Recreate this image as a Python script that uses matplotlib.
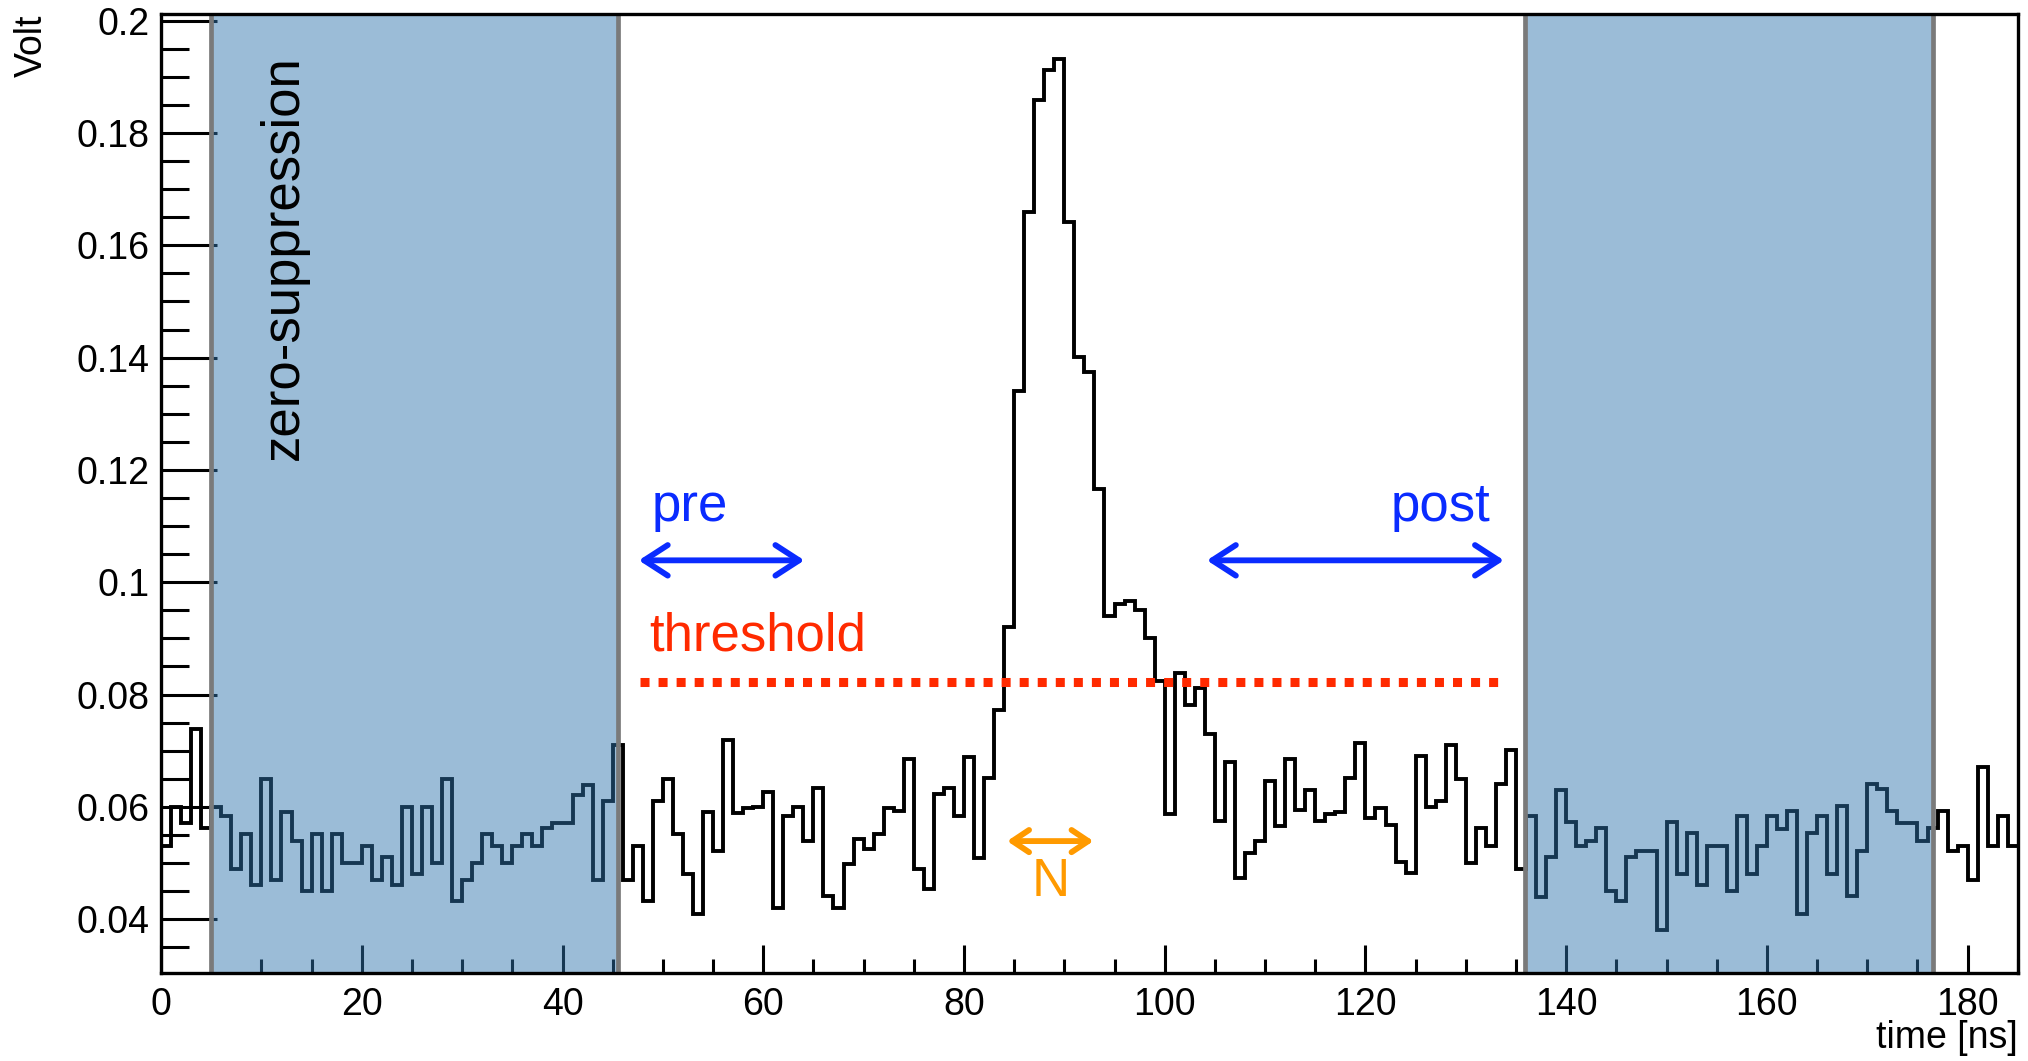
import numpy as np
from matplotlib import pyplot as plt
from matplotlib.ticker import MultipleLocator, FuncFormatter

plt.rcParams['font.family'] = ['Liberation Sans', 'DejaVu Sans']

# waveform, one value per 1 ns bin (0..185 ns)
volts = [0.0531, 0.0600, 0.0571, 0.0739, 0.0562, 0.0600, 0.0583, 0.0490, 0.0552, 0.0460,
         0.0649, 0.0470, 0.0591, 0.0540, 0.0451, 0.0552, 0.0451, 0.0552, 0.0500, 0.0500,
         0.0530, 0.0470, 0.0511, 0.0460, 0.0600, 0.0481, 0.0600, 0.0500, 0.0649, 0.0433,
         0.0470, 0.0500, 0.0552, 0.0530, 0.0500, 0.0530, 0.0552, 0.0530, 0.0562, 0.0571,
         0.0571, 0.0621, 0.0639, 0.0470, 0.0610, 0.0710, 0.0470, 0.0530, 0.0433, 0.0610,
         0.0649, 0.0552, 0.0481, 0.0410, 0.0591, 0.0521, 0.0719, 0.0589, 0.0598, 0.0600,
         0.0627, 0.0419, 0.0584, 0.0600, 0.0540, 0.0633, 0.0441, 0.0419, 0.0499, 0.0543,
         0.0525, 0.0551, 0.0598, 0.0593, 0.0685, 0.0489, 0.0454, 0.0623, 0.0633, 0.0583,
         0.0688, 0.0509, 0.0652, 0.0772, 0.0920, 0.1341, 0.1659, 0.1858, 0.1912, 0.1932,
         0.1642, 0.1401, 0.1374, 0.1166, 0.0939, 0.0962, 0.0967, 0.0951, 0.0901, 0.0824,
         0.0587, 0.0838, 0.0781, 0.0811, 0.0730, 0.0574, 0.0679, 0.0473, 0.0518, 0.0539,
         0.0646, 0.0565, 0.0685, 0.0594, 0.0630, 0.0574, 0.0587, 0.0590, 0.0652, 0.0714,
         0.0581, 0.0598, 0.0568, 0.0502, 0.0482, 0.0691, 0.0600, 0.0610, 0.0711, 0.0649,
         0.0500, 0.0562, 0.0530, 0.0640, 0.0701, 0.0490, 0.0583, 0.0440, 0.0511, 0.0630,
         0.0573, 0.0530, 0.0540, 0.0562, 0.0451, 0.0433, 0.0511, 0.0521, 0.0521, 0.0381,
         0.0573, 0.0481, 0.0553, 0.0460, 0.0530, 0.0530, 0.0451, 0.0583, 0.0481, 0.0530,
         0.0583, 0.0561, 0.0592, 0.0410, 0.0553, 0.0583, 0.0481, 0.0602, 0.0441, 0.0521,
         0.0640, 0.0632, 0.0592, 0.0571, 0.0571, 0.0539, 0.0562, 0.0592, 0.0521, 0.0530,
         0.0470, 0.0671, 0.0530, 0.0583, 0.0530]
bin_width = 1.0

# zero-suppression windows [ns]
zs_windows = [(5.0, 45.5), (135.9, 176.5)]

threshold = 0.0822
thr_range = (47.7, 133.5)
pre_range = (47.6, 64.1)
post_range = (104.2, 133.8)
n_range = (84.3, 92.9)

blue = '#0a2bff'
red = '#ff2a00'
orange = '#ff9a00'

edges = np.arange(len(volts) + 1) * bin_width

fig = plt.figure(figsize=(20.28, 10.61), dpi=100)
ax = fig.add_axes([0.0794, 0.0829, 0.9156, 0.9039])

ax.stairs(volts, edges, baseline=None, color='black', linewidth=2.8, zorder=2)

for lo, hi in zs_windows:
    ax.axvspan(lo, hi, color='#2f74ad', alpha=0.48, lw=0, zorder=3)
    ax.axvline(lo, color='#7a7a7a', lw=3.4, zorder=3.5)
    ax.axvline(hi, color='#7a7a7a', lw=3.4, zorder=3.5)

ax.hlines(threshold, *thr_range, colors=red, linewidth=6.5,
          linestyles=(0, (1.0, 1.0)), zorder=4)

arrow = dict(arrowstyle='<->, head_length=0.85, head_width=0.55',
             lw=4.2, shrinkA=0, shrinkB=0, mutation_scale=20)
ax.annotate('', xy=(pre_range[1], 0.1039), xytext=(pre_range[0], 0.1039),
            arrowprops=dict(arrow, color=blue), zorder=5)
ax.annotate('', xy=(post_range[1], 0.1039), xytext=(post_range[0], 0.1039),
            arrowprops=dict(arrow, color=blue), zorder=5)
ax.annotate('', xy=(n_range[1], 0.0539), xytext=(n_range[0], 0.0539),
            arrowprops=dict(arrowstyle='<->, head_length=0.6, head_width=0.4',
                            lw=4.2, shrinkA=0, shrinkB=0, mutation_scale=20,
                            color=orange), zorder=5)

fs = 38
ax.text(48.9, 0.1134, 'pre', color=blue, fontsize=fs, ha='left', va='center')
ax.text(132.4, 0.1134, 'post', color=blue, fontsize=fs, ha='right', va='center')
ax.text(48.6, 0.0903, 'threshold', color=red, fontsize=fs, ha='left', va='center')
ax.text(88.6, 0.0466, 'N', color=orange, fontsize=fs, ha='center', va='center')
ax.text(12.2, 0.1579, 'zero-suppression', color='black', fontsize=fs,
        rotation=90, ha='center', va='center', zorder=4)

ax.set_xlim(0, 185)
ax.set_ylim(0.0304, 0.2012)
ax.xaxis.set_major_locator(MultipleLocator(20))
ax.xaxis.set_minor_locator(MultipleLocator(5))
ax.yaxis.set_major_locator(MultipleLocator(0.02))
ax.yaxis.set_minor_locator(MultipleLocator(0.005))
ax.yaxis.set_major_formatter(FuncFormatter(lambda v, p: '%g' % round(v, 3)))
ax.tick_params(axis='both', which='both', direction='in', labelsize=27,
               width=2.2, color='black')
ax.tick_params(axis='x', which='major', length=20, pad=10)
ax.tick_params(axis='x', which='minor', length=10)
ax.tick_params(axis='y', which='major', length=40, pad=8)
ax.tick_params(axis='y', which='minor', length=20)
for s in ax.spines.values():
    s.set_linewidth(2.4)
    s.set_zorder(4)

fig.text(0.0158, 0.986, 'Volt', rotation=90, fontsize=27, ha='center', va='top')
fig.text(0.995, 0.0215, 'time [ns]', fontsize=27, ha='right', va='center')

fig.savefig('out.png', dpi=100)
